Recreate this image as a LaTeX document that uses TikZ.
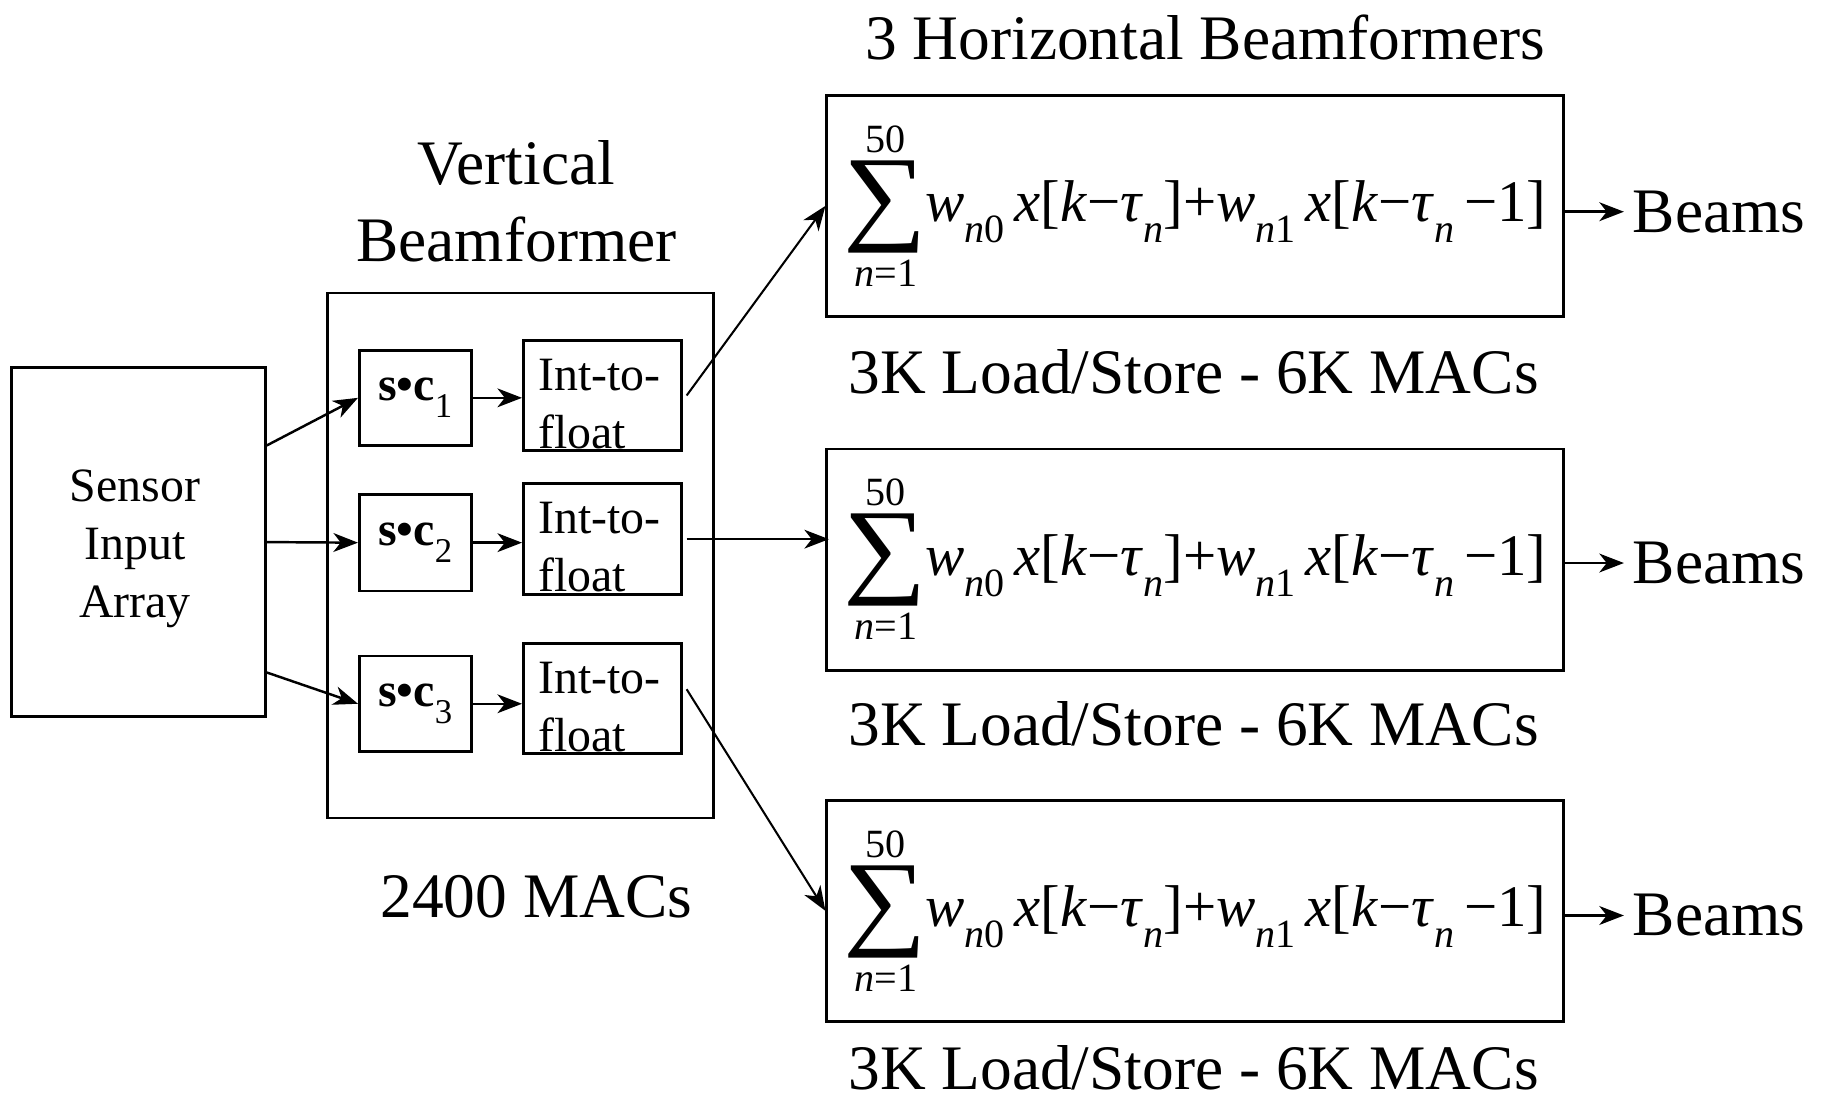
\documentclass[tikz,border=0pt]{standalone}
\usepackage{fontspec}
\setmainfont{Liberation Serif}
\usetikzlibrary{arrows.meta,calc}
\newcommand{\limfont}{\fontsize{9.8pt}{9.8pt}\selectfont}
\newcommand{\bigsum}{$\displaystyle\mathop{\vcenter{\hbox{\scalebox{1.1}[1]{\fontsize{26pt}{26pt}\selectfont ∑}}}}\limits^{\raisebox{0pt}[\height][1.5pt]{\limfont 50}}_{\raisebox{0pt}[10pt][\depth]{\limfont\textit{n}=1}}$\hspace{-0.5pt}}
\newcommand{\sbs}[1]{\raisebox{-0.36em}{\limfont #1}}
\newcommand{\formula}{\bigsum\textit{w}\sbs{\textit{n}0}\,\textit{x}[\textit{k}−\textit{τ}\sbs{\textit{n}}]+\textit{w}\sbs{\textit{n}1}\,\textit{x}[\textit{k}−\textit{τ}\sbs{\textit{n}}\,−1]}
\newcommand{\scc}[1]{\textbf{s•c}\raisebox{-0.35em}{\fontsize{8.5pt}{8.5pt}\selectfont #1}}
\begin{document}
\begin{tikzpicture}[x=0.01cm,y=-0.01cm,
  box/.style={draw,line width=0.7pt,inner sep=0pt},
  arr/.style={-{Stealth[length=6pt,width=4.6pt,inset=1.8pt]},line width=0.6pt},
  thinarr/.style={-{Stealth[length=6pt,width=4.6pt,inset=1.8pt]},line width=0.5pt},
  txtbig/.style={font=\fontsize{15.5pt}{19pt}\selectfont,inner sep=0pt,align=center},
  txtmid/.style={font=\fontsize{11.7pt}{14.2pt}\selectfont,inner sep=0pt},
  txtform/.style={font=\fontsize{14.4pt}{16pt}\selectfont},
]
\useasboundingbox (0,0) rectangle (1568,945);

% sensor
\node[box,minimum width=2.18cm,minimum height=3.0cm] (sensor) at (119,466) {};
\node[txtmid,align=center] (sensortxt) at (116,472) {Sensor\\Input\\Array};

% vertical beamformer
\node[box,minimum width=3.31cm,minimum height=4.51cm] (vbox) at (447.5,477.5) {};
\node[txtbig] (vtitle) at (444,173) {Vertical\\Beamformer};
\node[txtbig] (vmacs) at (461,771) {2400 MACs};

\node[box,txtmid,minimum width=0.96cm,minimum height=0.82cm] (sc1) at (357,342) {\scc{1}};
\node[box,txtmid,minimum width=0.96cm,minimum height=0.83cm] (sc2) at (357,466.5) {\scc{2}};
\node[box,txtmid,minimum width=0.96cm,minimum height=0.82cm] (sc3) at (357,605) {\scc{3}};

\node[box,minimum width=1.36cm,minimum height=0.94cm] (itf1) at (518,340) {};
\node[box,minimum width=1.36cm,minimum height=0.95cm] (itf2) at (518,463.5) {};
\node[box,minimum width=1.36cm,minimum height=0.95cm] (itf3) at (518,600.5) {};
\node[txtmid,align=left,anchor=west] (itf1t) at (462,347) {Int-to-\\float};
\node[txtmid,align=left,anchor=west] (itf2t) at (462,470.5) {Int-to-\\float};
\node[txtmid,align=left,anchor=west] (itf3t) at (462,607.5) {Int-to-\\float};

% horizontal beamformers
\node[txtbig] (htitle) at (1036,32) {3 Horizontal Beamformers};
\node[box,txtform,minimum width=6.33cm,minimum height=1.9cm] (h1) at (1027.5,177) {\formula};
\node[box,txtform,minimum width=6.33cm,minimum height=1.9cm] (h2) at (1027.5,481) {\formula};
\node[box,txtform,minimum width=6.33cm,minimum height=1.9cm] (h3) at (1027.5,783) {\formula};
\node[txtbig] (c1) at (1026,320) {3K Load/Store - 6K MACs};
\node[txtbig] (c2) at (1026,622) {3K Load/Store - 6K MACs};
\node[txtbig] (c3) at (1026,918) {3K Load/Store - 6K MACs};

\node[txtbig,anchor=west,inner sep=2pt] (b1) at (1396,182) {Beams};
\node[txtbig,anchor=west,inner sep=2pt] (b2) at (1396,484) {Beams};
\node[txtbig,anchor=west,inner sep=2pt] (b3) at (1396,787) {Beams};

% connectors
\draw[arr] ([yshift=0.83cm]sensor.east) -- (sc1.west);
\draw[arr] (sensor.east) -- (sc2.west);
\draw[arr] ([yshift=-1.12cm]sensor.east) -- (sc3.west);

\draw[arr] (sc1.east) -- (sc1.east -| itf1.west);
\draw[arr] (sc2.east) -- (sc2.east -| itf2.west);
\draw[arr] (sc3.east) -- (sc3.east -| itf3.west);

\draw[thinarr] ([xshift=0.03cm]itf1.east) -- (h1.west);
\draw[thinarr] ([xshift=0.03cm]itf2.east) -- ([xshift=0.03cm]itf2.east -| h2.west);
\draw[thinarr] ([xshift=0.03cm,yshift=0.08cm]itf3.east) -- (h3.west);

\draw[arr] (h1.east |- b1.west) -- (b1.west);
\draw[arr] (h2.east |- b2.west) -- (b2.west);
\draw[arr] (h3.east |- b3.west) -- (b3.west);
\end{tikzpicture}
\end{document}
